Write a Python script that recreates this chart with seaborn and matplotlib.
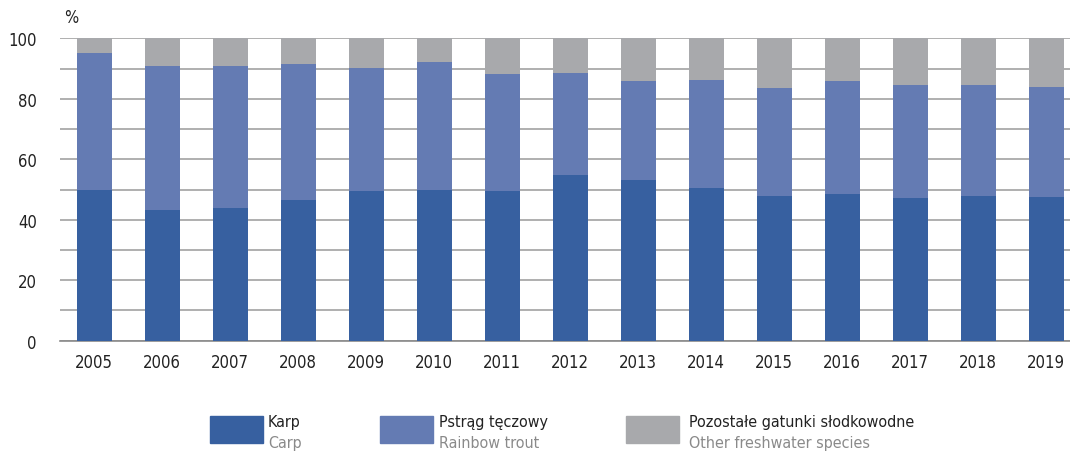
import numpy as np
import pandas as pd
import seaborn as sns
import matplotlib.pyplot as plt
from matplotlib.patches import Rectangle

years = [str(y) for y in range(2005, 2020)]
carp = [49.8, 43.2, 43.9, 46.5, 49.5, 49.8, 49.5, 54.8, 53.1, 50.5, 47.9, 48.5, 47.2, 47.9, 47.5]
trout = [45.3, 47.6, 46.9, 45.0, 40.7, 42.4, 38.7, 33.7, 32.8, 35.7, 35.7, 37.4, 37.4, 36.7, 36.4]
other = [4.9, 9.2, 9.2, 8.5, 9.8, 7.8, 11.8, 11.5, 14.1, 13.8, 16.4, 14.1, 15.4, 15.4, 16.1]
labels_pl = ['Karp', 'Pstrąg tęczowy', 'Pozostałe gatunki słodkowodne']
labels_en = ['Carp', 'Rainbow trout', 'Other freshwater species']
colors = ['#3760a0', '#647bb3', '#a8a9ac']

df = pd.DataFrame({'year': years, 'carp': carp, 'trout': trout, 'other': other})
# cumulative heights for stacking
df['c1'] = df['carp']
df['c2'] = df['carp'] + df['trout']
df['c3'] = df['c2'] + df['other']

sns.set_style('white')
plt.rcParams['font.family'] = ['DejaVu Sans']
plt.rcParams['font.stretch'] = 'condensed'

W, H = 1070, 452
fig = plt.figure(figsize=(W / 100, H / 100), dpi=100)
ax = fig.add_axes([60.3 / W, (H - 341.7) / H, 1020 / W, 302.4 / H])

for col, c in zip(['c3', 'c2', 'c1'], colors[::-1]):
    sns.barplot(data=df, x='year', y=col, color=c, width=0.51, ax=ax,
                saturation=1, zorder=3, linewidth=0)

ax.set_ylim(0, 100)
ax.set_xlim(-0.5, 14.5)
ax.set_yticks(np.arange(0, 101, 20))
ax.set_yticks(np.arange(0, 101, 10), minor=True)
ax.grid(axis='y', which='both', color='#9a9a9a', linewidth=1.1, zorder=0)
ax.set_axisbelow(True)
ax.set_xlabel('')
ax.set_ylabel('')
for s in ['top', 'right', 'left']:
    ax.spines[s].set_visible(False)
ax.spines['bottom'].set_color('#8a8a8a')
ax.spines['bottom'].set_linewidth(1.2)
ax.set_xticks(np.arange(-0.5, 15, 1), minor=True)
ax.tick_params(axis='x', which='major', length=0, pad=9, labelsize=12, labelcolor='#222222')
ax.tick_params(axis='x', which='minor', length=6, color='#8a8a8a', width=1.2)
ax.tick_params(axis='y', which='both', length=0, pad=17, labelsize=12, labelcolor='#222222')
ax.text(-0.45, 104, '%', fontsize=12, color='#222222', va='bottom', ha='left')

# legend built by hand (two-line labels, second line grey)
px = [210, 380, 626]
tx = [268, 439, 689]
for i in range(3):
    fig.add_artist(Rectangle((px[i] / W, 1 - 444 / H), 53 / W, 27 / H,
                             color=colors[i], transform=fig.transFigure))
    fig.text(tx[i] / W, 1 - 423 / H, labels_pl[i], fontsize=11.5, color='#222222', va='center', ha='left')
    fig.text(tx[i] / W, 1 - 444 / H, labels_en[i], fontsize=11.5, color='#8a8a8a', va='center', ha='left')

fig.savefig('out.png', dpi=100)
